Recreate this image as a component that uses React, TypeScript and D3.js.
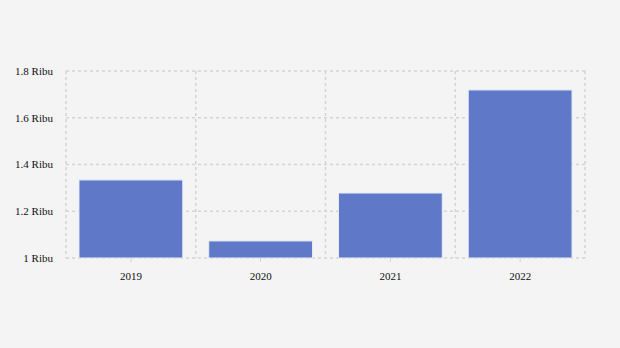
import React from "react";
import * as d3 from "d3";

const categories = ["2019", "2020", "2021", "2022"];
const values = [1.334, 1.073, 1.278, 1.719];
const yTicks = [1, 1.2, 1.4, 1.6, 1.8];
const yTickLabels = ["1 Ribu", "1.2 Ribu", "1.4 Ribu", "1.6 Ribu", "1.8 Ribu"];

export default function App() {
  const W = 620, H = 348;
  const left = 66, right = 585, top = 71, bottom = 258;
  const x = d3.scaleBand<string>().domain(categories).range([left, right]).paddingInner(0.2).paddingOuter(0.1);
  const y = d3.scaleLinear().domain([1, 1.8]).range([bottom, top]);
  const bounds = d3.range(categories.length + 1).map((i) => left + i * ((right - left) / categories.length));
  const grid = "#d4d4d4";
  return (
    <svg width={W} height={H} style={{ position: "absolute", left: 0, top: 0, background: "#f4f4f4" }}>
      <rect x={0} y={0} width={W} height={H} fill="#f4f4f4" />
      {yTicks.map((t) => (
        <line key={"h" + t} x1={left} x2={right} y1={y(t)} y2={y(t)} stroke={grid} strokeWidth={1.5} strokeDasharray="3,3" />
      ))}
      {bounds.map((b, i) => (
        <line key={"v" + i} x1={b} x2={b} y1={top} y2={bottom} stroke={grid} strokeWidth={1.5} strokeDasharray="3,3" />
      ))}
      {categories.map((c, i) => (
        <rect key={c} x={x(c)} y={y(values[i])} width={x.bandwidth()} height={bottom - y(values[i])} fill="#5f79c8" stroke="#e8ecf7" strokeWidth={1} />
      ))}
      {categories.map((c) => (
        <line key={"t" + c} x1={(x(c) as number) + x.bandwidth() / 2} x2={(x(c) as number) + x.bandwidth() / 2} y1={bottom} y2={bottom + 4} stroke={grid} strokeWidth={1} />
      ))}
      {yTicks.map((t, i) => (
        <text key={"yl" + t} x={53} y={y(t)} dy="0.35em" textAnchor="end" fontFamily="Liberation Serif, serif" fontSize={11} fill="#111">
          {yTickLabels[i]}
        </text>
      ))}
      {categories.map((c) => (
        <text key={"xl" + c} x={(x(c) as number) + x.bandwidth() / 2} y={280} textAnchor="middle" fontFamily="Liberation Serif, serif" fontSize={11} fill="#111">
          {c}
        </text>
      ))}
    </svg>
  );
}
